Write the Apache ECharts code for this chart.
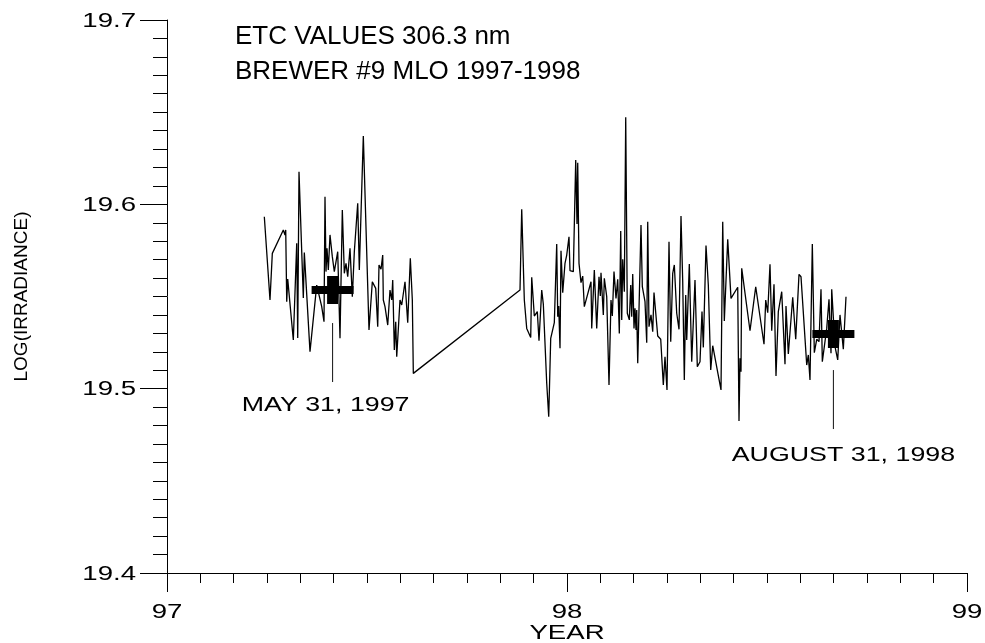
<!DOCTYPE html>
<html>
<head>
<meta charset="utf-8">
<script src="https://cdn.jsdelivr.net/npm/echarts@6/dist/echarts.min.js"></script>
<style>
  html, body { margin: 0; padding: 0; background: #fff; }
  #chart { width: 985px; height: 643px; }
</style>
</head>
<body>
<div id="chart"></div>
<script>
// Heading lines
const titleLines = ['ETC VALUES 306.3 nm', 'BREWER #9 MLO 1997-1998'];

// Axis ranges and tick labels
const yearRange = [97, 99];
const logRange = [19.4, 19.7];
const xTickValues = [97, 98, 99];
const xTickLabels = ['97', '98', '99'];
const yTickValues = [19.4, 19.5, 19.6, 19.7];
const yTickLabels = ['19.4', '19.5', '19.6', '19.7'];
const xAxisTitle = 'YEAR';
const yAxisTitle = 'LOG(IRRADIANCE)';

// ETC daily values: decimal year (two-digit) and log(irradiance)
const decYear = [
  97.2433, 97.2575, 97.2633, 97.2908, 97.2950, 97.2968, 97.2993, 97.3018, 97.3158, 97.3243,
  97.3268, 97.3300, 97.3408, 97.3433, 97.3575, 97.3743, 97.3868, 97.3925, 97.3950, 97.3975,
  97.4000, 97.4033, 97.4075, 97.4133, 97.4183, 97.4218, 97.4268, 97.4325, 97.4383, 97.4433,
  97.4475, 97.4518, 97.4575, 97.4633, 97.4683, 97.4768, 97.4808, 97.4908, 97.5050, 97.5133,
  97.5218, 97.5268, 97.5300, 97.5350, 97.5393, 97.5408, 97.5450, 97.5518, 97.5575, 97.5618,
  97.5643, 97.5683, 97.5718, 97.5743, 97.5825, 97.5868, 97.5950, 97.6018, 97.6083, 97.6133,
  97.6158,
  97.8825, 97.8868, 97.8933, 97.8993, 97.9093, 97.9118, 97.9183, 97.9258, 97.9300, 97.9368,
  97.9408, 97.9493, 97.9543, 97.9593, 97.9683, 97.9743, 97.9768, 97.9793, 97.9825, 97.9850,
  97.9893, 97.9950, 97.9993, 98.0050, 98.0075, 98.0158, 98.0218, 98.0250, 98.0268, 98.0300,
  98.0350, 98.0393, 98.0433, 98.0600, 98.0618, 98.0683, 98.0743, 98.0800, 98.0833, 98.0850,
  98.0908, 98.0933, 98.0993, 98.1050, 98.1100, 98.1133, 98.1175, 98.1225, 98.1268, 98.1308,
  98.1343, 98.1368, 98.1393, 98.1433, 98.1468, 98.1508, 98.1558, 98.1593, 98.1618, 98.1643,
  98.1675, 98.1700, 98.1725, 98.1743, 98.1768, 98.1850, 98.1883, 98.1950, 98.1993, 98.2018,
  98.2050, 98.2100, 98.2143, 98.2175, 98.2268, 98.2343, 98.2408, 98.2450, 98.2500, 98.2550,
  98.2593, 98.2643, 98.2683, 98.2743, 98.2800, 98.2850, 98.2893, 98.2933, 98.2968, 98.2993,
  98.3058, 98.3118, 98.3200, 98.3258, 98.3325, 98.3375, 98.3408, 98.3475, 98.3533, 98.3593,
  98.3643, 98.3850, 98.3893, 98.3933, 98.4018, 98.4100, 98.4268, 98.4300, 98.4325, 98.4350,
  98.4368, 98.4575, 98.4718, 98.4925, 98.4968, 98.5018, 98.5075, 98.5118, 98.5175, 98.5225,
  98.5283, 98.5368, 98.5450, 98.5475, 98.5533, 98.5643, 98.5718, 98.5800, 98.5850, 98.5993,
  98.6033, 98.6075, 98.6133, 98.6183, 98.6243, 98.6300, 98.6350, 98.6383, 98.6493, 98.6550,
  98.6600, 98.6618, 98.6700, 98.6768, 98.6825, 98.6908, 98.6975
];
const logIrr = [
  19.5933, 19.5481, 19.5734, 19.5861, 19.5834, 19.5861, 19.5472, 19.5595, 19.5264, 19.5789,
  19.5275, 19.6177, 19.5492, 19.5738, 19.5201, 19.5562, 19.5445, 19.5363, 19.6041, 19.5635,
  19.5761, 19.5644, 19.5834, 19.5716, 19.5635, 19.5626, 19.5743, 19.5273, 19.5969, 19.5626,
  19.5680, 19.5607, 19.5761, 19.5499, 19.5743, 19.6006, 19.5644, 19.6371, 19.5318, 19.5580,
  19.5544, 19.5336, 19.5671, 19.5648, 19.5725, 19.5481, 19.5445, 19.5345, 19.5535, 19.5481,
  19.5590, 19.5210, 19.5363, 19.5173, 19.5481, 19.5454, 19.5580, 19.5358, 19.5707, 19.5481,
  19.5083,
  19.5535, 19.5973, 19.5481, 19.5327, 19.5277, 19.5604, 19.5394, 19.5418, 19.5260, 19.5535,
  19.5459, 19.5029, 19.4848, 19.5273, 19.5358, 19.5785, 19.5390, 19.5448, 19.5219, 19.5748,
  19.5521, 19.5680, 19.5725, 19.5824, 19.5640, 19.5635, 19.6241, 19.5893, 19.6226, 19.5680,
  19.5575, 19.5611, 19.5445, 19.5580, 19.5327, 19.5644, 19.5327, 19.5607, 19.5503, 19.5629,
  19.5400, 19.5599, 19.5499, 19.5020, 19.5481, 19.5394, 19.5635, 19.5490, 19.5593, 19.5300,
  19.5855, 19.5373, 19.5702, 19.5526, 19.6472, 19.5409, 19.5373, 19.5562, 19.5390, 19.5622,
  19.5327, 19.5436, 19.5318, 19.5427, 19.5138, 19.5888, 19.5553, 19.5472, 19.5249, 19.5906,
  19.5336, 19.5400, 19.5309, 19.5521, 19.5286, 19.5268, 19.5020, 19.5173, 19.4993, 19.5797,
  19.5255, 19.5626, 19.5671, 19.5409, 19.5322, 19.5937, 19.5580, 19.5047, 19.5508, 19.5264,
  19.5676, 19.5146, 19.5590, 19.5119, 19.5146, 19.5418, 19.5224, 19.5776, 19.5562, 19.5101,
  19.5233, 19.4993, 19.5906, 19.5367, 19.5810, 19.5490, 19.5550, 19.4825, 19.5165, 19.5092,
  19.5653, 19.5314, 19.5553, 19.5241, 19.5481, 19.5412, 19.5675, 19.5314, 19.5566, 19.5069,
  19.5418, 19.5526, 19.5132, 19.5448, 19.5188, 19.5496, 19.5268, 19.5620, 19.5607, 19.5128,
  19.5183, 19.5047, 19.5785, 19.5195, 19.5268, 19.5255, 19.5539, 19.5146, 19.5327, 19.5485,
  19.5192, 19.5539, 19.5228, 19.5156, 19.5400, 19.5214, 19.5499
];

// Reference dates marked with a cross, their values and leader lines
const markDates = [97.414, 98.666];
const markValues = [19.5535, 19.5297];
const markText = ['MAY 31, 1997', 'AUGUST 31, 1998'];
const leaderTop = [19.5356, 19.5101];
const leaderBottom = [19.5036, 19.4781];

const FONT = '"Liberation Sans", Arial, Helvetica, sans-serif';
// The plotting package draws its small lettering horizontally widened
const WIDEN = 1.38;
const WIDEN_CAPTION = 1.34;

const series = [
  {
    type: 'line',
    data: decYear.map((t, i) => [t, logIrr[i]]),
    symbol: 'none',
    lineStyle: { color: '#000', width: 1.3 },
    z: 2
  },
  {
    type: 'scatter',
    data: markDates.map((t, i) => [t, markValues[i]]),
    symbol: 'path://M0,10 L42,10 L42,18 L0,18 Z M15.5,0 L26.5,0 L26.5,28 L15.5,28 Z',
    symbolKeepAspect: false,
    symbolSize: [42, 28],
    itemStyle: { color: '#000', opacity: 1 },
    z: 3
  }
];

// Leader lines under each cross
markDates.forEach((t, i) => {
  series.push({
    type: 'line',
    data: [[t, leaderTop[i]], [t, leaderBottom[i]]],
    symbol: 'none',
    lineStyle: { color: '#111', width: 1 },
    z: 2
  });
});

const chart = echarts.init(document.getElementById('chart'), null, { renderer: 'canvas' });
chart.setOption({
  animation: false,
  backgroundColor: '#fff',
  title: {
    text: titleLines.join('\n'),
    left: 230,
    top: 14,
    textStyle: { fontFamily: FONT, fontSize: 26, fontWeight: 'normal', color: '#000', lineHeight: 35 }
  },
  grid: { left: 167, right: 18, top: 20, bottom: 70, containLabel: false, outerBoundsMode: 'none' },
  xAxis: {
    type: 'value',
    min: yearRange[0],
    max: yearRange[1],
    interval: 1,
    axisLine: { show: true, lineStyle: { color: '#000', width: 1 } },
    axisTick: { show: true, length: 19, lineStyle: { color: '#000', width: 1 } },
    minorTick: { show: true, splitNumber: 12, length: 10, lineStyle: { color: '#000', width: 1 } },
    splitLine: { show: false },
    axisLabel: { show: false }
  },
  yAxis: {
    type: 'value',
    min: logRange[0],
    max: logRange[1],
    interval: 0.1,
    name: yAxisTitle,
    nameLocation: 'middle',
    nameRotate: 90,
    nameGap: 136,
    nameTextStyle: { fontFamily: FONT, fontSize: 19, color: '#000' },
    axisLine: { show: true, lineStyle: { color: '#000', width: 1 } },
    axisTick: { show: true, length: 27, lineStyle: { color: '#000', width: 1 } },
    minorTick: { show: true, splitNumber: 10, length: 14, lineStyle: { color: '#000', width: 1 } },
    splitLine: { show: false },
    axisLabel: { show: false }
  },
  series: series
});

// Widened lettering: tick labels, axis title and date captions, placed from data coordinates
function wideText(text, x, y, align, size, widen) {
  return {
    type: 'text',
    x: x,
    y: y,
    scaleX: widen,
    silent: true,
    style: {
      text: text,
      fontFamily: FONT,
      fontSize: size,
      fill: '#000',
      align: align,
      verticalAlign: 'middle',
      textAlign: align,
      textVerticalAlign: 'middle'
    }
  };
}

const px = (t, v) => chart.convertToPixel({ gridIndex: 0 }, [t, v]);
const labels = [];
yTickValues.forEach((v, i) => {
  const p = px(yearRange[0], v);
  labels.push(wideText(yTickLabels[i], p[0] - 31, p[1] + 1, 'right', 20, WIDEN));
});
xTickValues.forEach((t, i) => {
  const p = px(t, logRange[0]);
  labels.push(wideText(xTickLabels[i], p[0], p[1] + 39, 'center', 20, WIDEN));
});
const xMid = px((yearRange[0] + yearRange[1]) / 2, logRange[0]);
labels.push(wideText(xAxisTitle, xMid[0], xMid[1] + 60, 'center', 20, WIDEN));
const captionShift = [[-7, 23], [10, 26]];
markDates.forEach((t, i) => {
  const p = px(t, leaderBottom[i]);
  labels.push(wideText(markText[i], p[0] + captionShift[i][0], p[1] + captionShift[i][1], 'center', 20, WIDEN_CAPTION));
});
chart.setOption({ graphic: labels });
</script>
</body>
</html>
